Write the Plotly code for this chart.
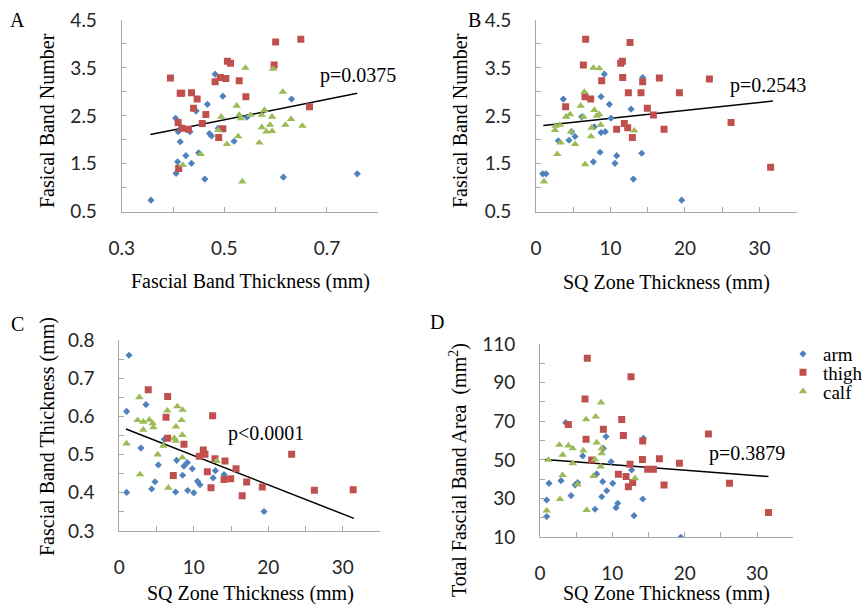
import plotly.graph_objects as go

W, H = 862, 607

# ---------------- Data ----------------
# Panel A: Fascial band thickness (mm) vs fasical band number
a_arm_x = [0.357,0.405,0.41,0.414,0.409,0.406,0.425,0.436,0.433,0.445,0.45,0.462,0.467,0.471,0.475,0.482,0.488,0.497,0.519,0.544,0.615,0.631,0.759]
a_arm_y = [0.74,2.45,2.17,1.96,1.54,1.30,1.67,1.51,2.17,2.60,1.73,1.18,2.74,2.13,2.08,3.37,2.24,2.91,1.97,2.47,1.22,2.85,1.29]
a_thigh_x = [0.395,0.41,0.414,0.417,0.436,0.447,0.44,0.464,0.457,0.417,0.43,0.411,0.482,0.492,0.503,0.506,0.512,0.529,0.542,0.497,0.489,0.597,0.60,0.649,0.666]
a_thigh_y = [3.29,2.36,2.97,2.97,2.98,2.85,2.66,2.53,2.34,2.24,2.22,1.40,3.21,3.30,3.28,3.64,3.60,3.23,2.90,2.23,2.05,3.56,4.04,4.10,2.69]
a_calf_x = [0.419,0.454,0.488,0.494,0.505,0.524,0.529,0.532,0.527,0.541,0.535,0.551,0.568,0.573,0.578,0.573,0.582,0.589,0.593,0.593,0.595,0.614,0.619,0.63,0.652]
a_calf_y = [1.47,1.70,2.20,2.48,1.91,2.71,2.52,2.45,2.07,3.50,1.13,2.52,1.94,2.52,2.62,2.26,2.17,2.31,2.48,2.18,3.48,3.00,2.31,2.43,2.29]
a_trend_x = [0.356, 0.759]
a_trend_y = [2.11, 2.97]

# Panel B: SQ zone thickness (mm) vs fasical band number
b_arm_x = [0.9,1.34,3.0,3.67,4.43,4.79,5.24,6.13,7.7,7.83,8.6,8.73,8.73,9.3,9.17,9.85,10.07,10.6,10.83,12.76,13.07,14.19,14.32,19.56]
b_arm_y = [1.29,1.29,1.98,2.85,1.99,2.17,2.07,2.48,1.54,2.27,1.74,2.90,2.15,2.17,3.37,2.74,2.45,1.51,1.67,2.64,1.18,1.72,3.30,0.74]
b_thigh_x = [3.98,6.67,6.36,6.58,7.34,8.82,11.37,11.6,11.64,12.62,12.4,10.83,11.86,12.31,12.94,14.1,14.32,14.95,15.76,17.19,16.56,19.25,23.28,26.19,31.5]
b_thigh_y = [2.69,4.10,3.56,2.90,2.85,3.23,3.60,3.64,3.30,4.03,2.98,2.22,2.34,2.25,2.05,2.98,3.21,2.66,2.52,2.22,3.29,2.98,3.27,2.36,1.43]
b_calf_x = [1.07,2.55,2.64,2.86,3.22,3.31,4.03,4.57,4.7,5.24,5.99,6.36,6.49,6.58,7.39,7.48,7.7,7.83,8.15,8.5,8.5,8.68,13.2]
b_calf_y = [1.13,2.20,2.29,1.70,2.31,1.94,2.48,2.53,2.17,1.91,2.71,2.48,3.00,1.49,2.07,2.25,3.50,2.62,2.50,3.49,2.53,2.31,2.19]
b_trend_x = [0.98, 31.8]
b_trend_y = [2.30, 2.81]

# Panel C: SQ zone thickness (mm) vs fascial band thickness (mm)
c_arm_x = [1.3,0.98,0.98,2.91,3.58,4.34,4.79,5.24,6.04,7.56,7.7,8.5,8.68,9.13,9.18,9.8,10.0,10.5,10.83,12.6,12.9,14.06,19.43]
c_arm_y = [0.760,0.613,0.401,0.517,0.631,0.410,0.429,0.473,0.540,0.402,0.485,0.446,0.470,0.479,0.406,0.463,0.400,0.430,0.421,0.439,0.458,0.448,0.351]
c_thigh_x = [3.89,6.49,6.27,6.49,7.25,8.68,10.74,11.28,11.5,11.82,12.53,12.31,12.85,14.19,14.06,14.95,15.67,17.1,16.5,19.2,23.14,26.19,31.4]
c_thigh_y = [0.670,0.652,0.598,0.543,0.445,0.527,0.496,0.512,0.501,0.455,0.602,0.413,0.489,0.483,0.435,0.437,0.463,0.428,0.392,0.415,0.501,0.407,0.408]
c_calf_x = [0.98,2.69,2.46,2.78,3.22,3.22,4.03,4.48,4.57,5.15,5.91,6.45,6.58,7.39,7.61,7.79,7.56,8.46,8.5,8.37,8.46,13.07]
c_calf_y = [0.529,0.650,0.590,0.448,0.586,0.565,0.591,0.582,0.571,0.500,0.523,0.615,0.413,0.543,0.573,0.626,0.536,0.551,0.617,0.590,0.492,0.483]
c_trend_x = [0.9, 31.5]
c_trend_y = [0.567, 0.333]

# Panel D: SQ zone thickness (mm) vs total fascial band area (mm^2)
d_arm_x = [0.92,0.92,1.24,2.9,3.55,4.29,4.84,5.2,5.9,7.6,7.83,8.53,8.66,8.76,9.12,9.22,9.82,10.05,10.5,10.74,12.67,12.99,14.2,14.29,19.45]
d_arm_y = [20.7,29.3,37.9,39.3,69.3,31.6,37.1,38.3,52.1,24.5,42.8,31.0,38.8,56.0,62.1,34.1,49.1,37.9,25.3,27.6,44.8,21.2,29.8,61.2,10.0]
d_thigh_x = [3.92,6.54,6.22,6.36,7.14,8.76,10.83,11.29,11.52,11.89,12.21,12.44,12.58,12.81,14.19,14.15,14.88,15.67,16.5,17.14,19.26,23.27,26.18,31.57]
d_thigh_y = [68.4,102.6,81.6,60.7,50.0,65.9,42.6,71.0,62.6,41.4,36.2,47.8,93.1,38.4,59.8,50.3,45.2,45.2,50.7,37.1,48.3,63.4,37.9,22.8]
d_calf_x = [0.92,1.15,2.67,2.76,3.13,3.13,3.92,4.52,4.52,5.16,5.99,6.36,6.45,7.37,7.6,7.7,7.83,8.39,8.43,8.53,8.53,13.13]
d_calf_y = [23.8,50.0,57.8,29.7,52.6,42.2,57.4,56.0,48.3,37.4,54.8,71.0,24.1,41.7,50.3,72.4,59.0,46.6,79.7,53.4,56.0,40.5]
d_trend_x = [0.69, 31.57]
d_trend_y = [50.3, 41.4]

series_names = ["arm", "thigh", "calf"]
p_labels = ["p=0.0375", "p=0.2543", "p<0.0001", "p=0.3879"]

# ---------------- Styles ----------------
COLORS = {"arm": "#4F81BD", "thigh": "#C0504D", "calf": "#9BBB59"}
SYMBOLS = {"arm": "diamond", "thigh": "square", "calf": "triangle-up"}
SIZES = {"arm": 5.5, "thigh": 7, "calf": 7.5}
SERIF = "Liberation Serif, Times New Roman, serif"
SANS = "Lato, Carlito, Calibri, sans-serif"
AXCOL = "#A6A6A6"
TXT = "#262626"
LEGEND_IDS = {"arm": "legend", "thigh": "legend2", "calf": "legend3"}
LEGEND_ROW_Y = {"arm": 354, "thigh": 372.5, "calf": 391.5}

fig = go.Figure()

panels = [
    ("x", "y", [(a_arm_x, a_arm_y), (a_thigh_x, a_thigh_y), (a_calf_x, a_calf_y)], (a_trend_x, a_trend_y)),
    ("x2", "y2", [(b_arm_x, b_arm_y), (b_thigh_x, b_thigh_y), (b_calf_x, b_calf_y)], (b_trend_x, b_trend_y)),
    ("x3", "y3", [(c_arm_x, c_arm_y), (c_thigh_x, c_thigh_y), (c_calf_x, c_calf_y)], (c_trend_x, c_trend_y)),
    ("x4", "y4", [(d_arm_x, d_arm_y), (d_thigh_x, d_thigh_y), (d_calf_x, d_calf_y)], (d_trend_x, d_trend_y)),
]

for pi, (xa, ya, sers, trend) in enumerate(panels):
    fig.add_trace(go.Scatter(x=trend[0], y=trend[1], mode="lines",
                             line=dict(color="black", width=1.5),
                             xaxis=xa, yaxis=ya, showlegend=False, hoverinfo="skip"))
    for name, (sx, sy) in zip(series_names, sers):
        fig.add_trace(go.Scatter(
            x=sx, y=sy, mode="markers", name=name,
            marker=dict(symbol=SYMBOLS[name], color=COLORS[name], size=SIZES[name],
                        line=dict(width=0)),
            xaxis=xa, yaxis=ya, legendgroup=name, legend=LEGEND_IDS[name],
            showlegend=(pi == 3)))


def px_x(v):
    return v / W


def px_y(v):
    return 1 - v / H


# plot areas in pixels: (left, right, top, bottom)
areas = [(121.7, 378.3, 20, 211.7), (536, 796.7, 20, 211.7),
         (119.3, 380, 340, 531), (540, 793.3, 344, 537.3)]

x_specs = [dict(range=[0.3, 0.8], tick0=0.3, dtick=0.2, minor=0.1, fmt=".1f"),
           dict(range=[0, 35], tick0=0, dtick=10, minor=5, fmt=""),
           dict(range=[0, 35], tick0=0, dtick=10, minor=5, fmt=""),
           dict(range=[0, 35], tick0=0, dtick=10, minor=5, fmt="")]
y_specs = [dict(range=[0.5, 4.5], tick0=0.5, dtick=1, minor=0.5, fmt=".1f"),
           dict(range=[0.5, 4.5], tick0=0.5, dtick=1, minor=0.5, fmt=".1f"),
           dict(range=[0.3, 0.8], tick0=0.3, dtick=0.1, minor=0.05, fmt=".1f"),
           dict(range=[10, 110], tick0=10, dtick=20, minor=10, fmt="")]

layout_axes = {}
for i, ((l, r, t, b), xs, ys) in enumerate(zip(areas, x_specs, y_specs)):
    sfx = "" if i == 0 else str(i + 1)
    common = dict(showgrid=False, zeroline=False, showline=True, linecolor=AXCOL,
                  linewidth=1, ticks="inside", ticklen=5, tickcolor=AXCOL, tickwidth=1,
                  tickfont=dict(family=SANS, size=19, color=TXT))
    layout_axes["xaxis" + sfx] = dict(
        common, domain=[px_x(l), px_x(r)], range=xs["range"], tick0=xs["tick0"], dtick=xs["dtick"],
        tickformat=xs["fmt"], anchor="y" + sfx, ticklabelstandoff=19,
        minor=dict(dtick=xs["minor"], ticks="inside", ticklen=5, tickcolor=AXCOL, showgrid=False))
    layout_axes["yaxis" + sfx] = dict(
        common, domain=[px_y(b), px_y(t)], range=ys["range"], tick0=ys["tick0"], dtick=ys["dtick"],
        tickformat=ys["fmt"], anchor="x" + sfx, ticklabelstandoff=20,
        minor=dict(dtick=ys["minor"], ticks="inside", ticklen=5, tickcolor=AXCOL, showgrid=False))

fig.update_layout(**layout_axes)

# Text annotations
ann = []


def text(x, y, s, size=20, angle=0, xanchor="center", yanchor="middle", family=SERIF):
    ann.append(dict(x=px_x(x), y=px_y(y), xref="paper", yref="paper", text=s, showarrow=False,
                    textangle=angle, xanchor=xanchor, yanchor=yanchor,
                    font=dict(family=family, size=size, color="black")))


# panel letters
text(17, 20, "A")
text(474, 20, "B")
text(17, 324, "C")
text(437, 322, "D")
# x axis titles
text(250, 281, "Fascial Band Thickness (mm)")
text(666, 282, "SQ Zone Thickness (mm)")
text(250, 593, "SQ Zone Thickness (mm)")
text(666, 593, "SQ Zone Thickness (mm)")
# y axis titles
text(47, 121, "Fasical Band Number", angle=-90)
text(460, 120, "Fasical Band Number", angle=-90)
text(47, 437, "Fascial Band Thickness (mm)", angle=-90)
text(458, 470, "Total Fascial Band Area  (mm<sup>2</sup>)", angle=-90)
# p values
text(318, 76, p_labels[0], xanchor="left")
text(728, 85, p_labels[1], xanchor="left")
text(226, 433, p_labels[2], xanchor="left")
text(707, 453, p_labels[3], xanchor="left")

legends = {}
for name in series_names:
    legends[LEGEND_IDS[name]] = dict(
        x=px_x(783), y=px_y(LEGEND_ROW_Y[name]), xanchor="left", yanchor="middle",
        font=dict(family=SERIF, size=19, color="black"),
        bgcolor="rgba(0,0,0,0)", itemwidth=30, borderwidth=0)

fig.update_layout(
    width=W, height=H, margin=dict(l=0, r=0, t=0, b=0, pad=0, autoexpand=False),
    paper_bgcolor="white", plot_bgcolor="white",
    annotations=ann,
    showlegend=True,
    **legends,
)

fig.write_html("out.html", config=dict(displayModeBar=False),
               post_script="document.body.style.margin='0';document.body.style.overflow='hidden';")
